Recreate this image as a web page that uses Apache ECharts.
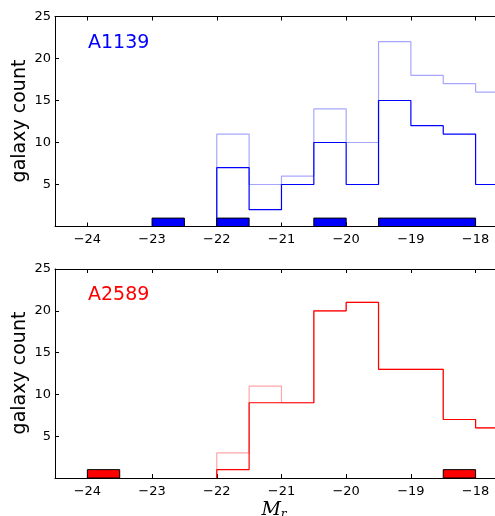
<!DOCTYPE html>
<html><head><meta charset="utf-8">
<script src="https://cdn.jsdelivr.net/npm/echarts@6/dist/echarts.min.js"></script>
<style>html,body{margin:0;padding:0;background:#fff}#c{width:495px;height:516px}</style>
</head><body><div id="c"></div>
<script>
// bin edges (0.5 mag bins) for the histograms
const binEdges = [-22, -21.5, -21, -20.5, -20, -19.5, -19, -18.5, -18, -17.5];
// A1139
const a1139All = [11, 5, 6, 14, 10, 22, 18, 17, 16];
const a1139Sel = [7, 2, 5, 10, 5, 15, 12, 11, 5];
const a1139Bars = [[-23, -22.5, 1], [-22, -21.5, 1], [-20.5, -20, 1], [-19.5, -18, 1]];
// A2589
const a2589All = [3, 11, 9, 20, 21, 13, 13, 7, 6];
const a2589Sel = [1, 9, 9, 20, 21, 13, 13, 7, 6];
const a2589Bars = [[-24, -23.5, 1], [-18.5, -18, 1]];
const xTicks = [-24, -23, -22, -21, -20, -19, -18];
const yTicks = [5, 10, 15, 20, 25];
// visible x-range (the figure is cropped on the right)
const xMin = -24.5, xMax = -17.7;

function stepPts(edges, counts) {
  const p = [[edges[0], 0]];
  for (let i = 0; i < counts.length; i++) {
    p.push([edges[i], counts[i]]);
    p.push([edges[i + 1], counts[i]]);
  }
  p.push([edges[edges.length - 1], 0]);
  return p;
}
const fmt = v => (v < 0 ? '\u2212' + Math.abs(v) : String(v));
const font = 'DejaVu Sans';

const grids = [
  {left: 55, top: 16.5, right: 0, height: 210},
  {left: 55, top: 269, right: 0, height: 209}
];
const xAxes = [], yAxes = [];
[0, 1].forEach(g => {
  xAxes.push({
    type: 'value', gridIndex: g, min: xMin, max: xMax,
    axisLine: {lineStyle: {color: '#000', width: 1}},
    axisTick: {inside: true, length: 4, lineStyle: {color: '#000'}, customValues: xTicks},
    axisLabel: {color: '#000', fontSize: 13, fontFamily: font, margin: 7, formatter: fmt, customValues: xTicks},
    splitLine: {show: false}
  });
  xAxes.push({
    type: 'value', gridIndex: g, position: 'top', min: xMin, max: xMax,
    axisLine: {lineStyle: {color: '#000', width: 1}},
    axisTick: {inside: true, length: 4, lineStyle: {color: '#000'}, customValues: xTicks},
    axisLabel: {show: false}, splitLine: {show: false}
  });
  yAxes.push({
    type: 'value', gridIndex: g, min: 0, max: 25, interval: 5,
    axisLine: {show: true, lineStyle: {color: '#000', width: 1}},
    axisTick: {show: true, inside: true, length: 4, lineStyle: {color: '#000'}, customValues: yTicks},
    axisLabel: {color: '#000', fontSize: 13, fontFamily: font, margin: 4, customValues: yTicks},
    splitLine: {show: false}
  });
});

function lineSeries(g, pts, color) {
  return {type: 'line', xAxisIndex: g * 2, yAxisIndex: g, data: pts, showSymbol: false,
    symbol: 'none', lineStyle: {color: color, width: 1.2}, animation: false, z: 3, clip: true};
}
function barSeries(g, bars, color) {
  return {type: 'custom', xAxisIndex: g * 2, yAxisIndex: g, data: bars, animation: false, z: 4,
    renderItem: (params, api) => {
      const p0 = api.coord([api.value(0), api.value(2)]);
      const p1 = api.coord([api.value(1), 0]);
      return {type: 'rect', shape: {x: p0[0], y: p0[1], width: p1[0] - p0[0], height: p1[1] - p0[1]},
        style: {fill: color, stroke: '#000', lineWidth: 1}};
    }};
}

const chart = echarts.init(document.getElementById('c'));
chart.setOption({
  animation: false,
  grid: grids, xAxis: xAxes, yAxis: yAxes,
  series: [
    lineSeries(0, stepPts(binEdges, a1139All), 'rgba(0,0,255,0.35)'),
    lineSeries(0, stepPts(binEdges, a1139Sel), '#0000ff'),
    barSeries(0, a1139Bars, '#0000ff'),
    lineSeries(1, stepPts(binEdges, a2589All), 'rgba(255,0,0,0.35)'),
    lineSeries(1, stepPts(binEdges, a2589Sel), '#ff0000'),
    barSeries(1, a2589Bars, '#ff0000')
  ],
  graphic: [
    {type: 'text', left: 88, top: 34, style: {text: 'A1139', fill: '#0000ff', fontSize: 19, fontFamily: font}},
    {type: 'text', left: 88, top: 286, style: {text: 'A2589', fill: '#ff0000', fontSize: 19, fontFamily: font}},
    {type: 'text', x: 20, y: 121, rotation: Math.PI / 2,
      style: {text: 'galaxy count', fill: '#000', fontSize: 19, fontFamily: font, align: 'center', verticalAlign: 'middle'}},
    {type: 'text', x: 20, y: 373, rotation: Math.PI / 2,
      style: {text: 'galaxy count', fill: '#000', fontSize: 19, fontFamily: font, align: 'center', verticalAlign: 'middle'}},
    {type: 'text', x: 274, y: 510,
      style: {text: '{m|M}{s|r}', align: 'center', verticalAlign: 'middle',
        rich: {m: {fontFamily: 'DejaVu Serif', fontStyle: 'italic', fontSize: 19, fill: '#000'},
               s: {fontFamily: 'DejaVu Serif', fontStyle: 'italic', fontSize: 12, fill: '#000', padding: [10, 0, 0, 0]}}}}
  ]
});
</script></body></html>
